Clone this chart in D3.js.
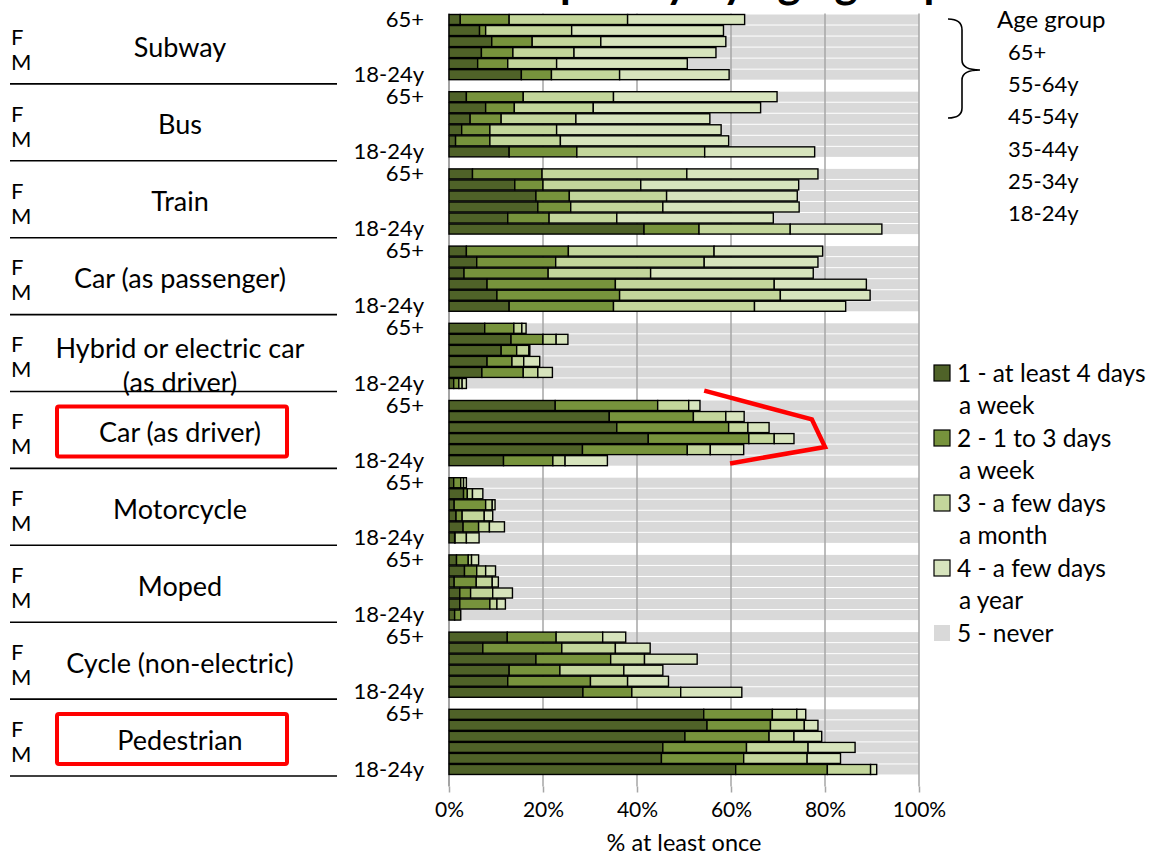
<!DOCTYPE html>
<html><head><meta charset="utf-8">
<script src="https://cdn.jsdelivr.net/npm/d3@7"></script>
<style>
body{margin:0;background:#fff}
svg{display:block}
text{font-family:Lato,"Open Sans",sans-serif;fill:#000}
</style>
</head><body><svg id="c" width="1159" height="857"></svg>
<script>
// ---------- data ----------
const modes = ["Subway","Bus","Train","Car (as passenger)","Hybrid or electric car|(as driver)","Car (as driver)","Motorcycle","Moped","Cycle (non-electric)","Pedestrian"];
const ageGroups = ["65+","55-64y","45-54y","35-44y","25-34y","18-24y"];
const sexLabels = ["F","M"];
const freqLabels = [["1 - at least 4 days","a week"],["2 - 1 to 3 days","a week"],["3 - a few days","a month"],["4 - a few days","a year"],["5 - never"]];
const xTicks = [0,20,40,60,80,100];
const titleText = "Frequency by age group";
const axisTitle = "% at least once";
const highlighted = ["Car (as driver)","Pedestrian"];

// share (%) per mode, rows ordered 65+ ... 18-24y
const freq1 = [
  [2.4,6.5,9.1,6.9,6.1,15.4],
  [3.7,7.8,4.5,2.7,1.4,12.8],
  [5.0,14.0,18.5,18.9,12.5,41.5],
  [3.7,5.9,3.2,8.1,10.2,12.8],
  [7.6,13.2,11.1,8.1,7.0,1.0],
  [22.6,34.1,35.7,42.4,28.4,11.6],
  [1.0,3.1,1.1,1.5,3.0,1.2],
  [1.6,3.3,1.1,2.3,2.3,1.2],
  [12.4,7.2,18.5,12.8,12.5,28.5],
  [54.2,54.9,50.2,45.5,45.2,61.0]
];
const freq2 = [
  [10.4,1.3,8.6,6.7,6.4,6.4],
  [12.1,6.1,6.6,6.0,7.3,14.4],
  [14.8,6.0,7.1,7.0,8.8,11.7],
  [21.7,16.8,17.9,27.3,26.1,22.2],
  [6.2,6.8,3.3,5.3,8.8,1.1],
  [21.8,17.9,23.8,21.4,22.3,10.5],
  [1.5,0.8,6.7,1.3,3.3,0.1],
  [2.5,2.6,4.7,2.3,6.4,1.3],
  [10.4,16.8,15.9,10.8,17.6,10.4],
  [14.6,13.5,17.9,17.8,17.5,19.5]
];
const freq3 = [
  [25.2,18.3,14.6,13.0,10.4,14.5],
  [19.2,16.8,15.9,14.2,15.0,27.2],
  [30.8,20.8,20.7,19.6,14.4,19.4],
  [31.0,31.6,21.8,33.8,34.2,30.0],
  [1.7,2.8,2.6,2.5,3.1,0.7],
  [6.6,6.9,4.1,5.4,4.9,2.6],
  [0.6,1.1,1.4,4.7,2.3,2.4],
  [0.7,1.9,3.4,4.7,1.5,0.0],
  [9.9,11.4,7.2,13.6,7.9,10.4],
  [5.2,7.2,5.3,13.1,13.5,9.2]
];
const freq4 = [
  [24.9,32.3,26.6,30.2,27.8,23.3],
  [34.8,35.6,28.5,35.0,35.8,23.4],
  [27.9,33.6,27.8,29.0,33.3,19.5],
  [23.1,24.2,34.6,19.6,19.1,19.4],
  [0.9,2.5,0.2,3.4,3.1,0.9],
  [2.4,3.9,4.5,4.2,7.1,9.0],
  [0.6,2.2,0.6,1.8,3.2,2.7],
  [1.5,2.1,1.3,4.2,1.8,0.0],
  [4.9,7.4,11.2,8.3,8.7,13.0],
  [1.9,2.9,5.9,10.0,7.1,1.3]
];
// red annotation (x in %, y in row slots)
const annotLine = [[54.3,33.7],[77.2,36.3],[80.0,38.8],[59.8,40.3]];

const colors = ["#4f6228","#77933c","#c3d69b","#d7e4bd","#d9d9d9"];

// ---------- layout ----------
const svg = d3.select("#c");
const rowKeys = [];
modes.forEach((m,mi)=>{ ageGroups.forEach((a,ai)=>rowKeys.push(mi+"-"+ai)); rowKeys.push(mi+"-gap"); });
const y = d3.scaleBand().domain(rowKeys).range([13.5,786.5]).padding(0.09);
const x = d3.scaleLinear().domain([0,100]).range([449,919]);
const plotTop = 13.5, plotBot = 786.5;

// title (mostly cut off at top)
svg.append("text").attr("x",716).attr("y",-2).attr("text-anchor","middle")
  .style("font-weight","bold").style("font-size","44px").text(titleText);

// rows data
const rows = [];
modes.forEach((m,mi)=>ageGroups.forEach((a,ai)=>{
  const vals=[freq1[mi][ai],freq2[mi][ai],freq3[mi][ai],freq4[mi][ai]];
  let c=0; const segs=vals.map((v,k)=>{const s={k,x0:c,x1:c+v};c+=v;return s;});
  rows.push({key:mi+"-"+ai,segs,total:c});
}));

// never bars
svg.append("g").selectAll("rect").data(rows).join("rect")
  .attr("x",d=>x(d.total)).attr("width",d=>x(100)-x(d.total))
  .attr("y",d=>y(d.key)).attr("height",y.bandwidth()).attr("fill",colors[4]);

// gridlines
svg.append("g").selectAll("line").data(xTicks.filter(t=>t>0)).join("line")
  .attr("x1",d=>x(d)).attr("x2",d=>x(d)).attr("y1",plotTop).attr("y2",plotBot)
  .attr("stroke","#a6a6a6").attr("stroke-width",1.5);
svg.append("line").attr("x1",x(0)).attr("x2",x(0)).attr("y1",plotTop).attr("y2",plotBot)
  .attr("stroke","#868686").attr("stroke-width",1.5);

// stacked bars
const bg = svg.append("g");
rows.forEach(r=>{
  bg.selectAll(null).data(r.segs.filter(s=>s.x1-s.x0>0)).join("rect")
    .attr("x",s=>x(s.x0)).attr("width",s=>x(s.x1)-x(s.x0))
    .attr("y",y(r.key)).attr("height",y.bandwidth())
    .attr("fill",s=>colors[s.k]).attr("stroke","#000").attr("stroke-width",1.4);
});

// y axis
const yAxis = d3.axisLeft(y).tickValues(rowKeys.filter(k=>k.endsWith("-0")||k.endsWith("-5")))
  .tickFormat(k=>ageGroups[+k.split("-")[1]]).tickSize(0).tickPadding(25);
const gy = svg.append("g").attr("transform",`translate(${x(0)},0)`).call(yAxis);
gy.select(".domain").remove();
gy.selectAll("text").style("font-size","22px").style("font-family","Lato");

// x axis
const xAxis = d3.axisBottom(x).tickValues(xTicks).tickFormat(d=>d+"%").tickSize(6).tickPadding(10);
const gx = svg.append("g").attr("transform",`translate(0,${plotBot})`).call(xAxis);
gx.select(".domain").remove();
gx.selectAll("line").attr("stroke","#a6a6a6").attr("stroke-width",1.5);
gx.selectAll("text").style("font-size","21px").style("font-family","Lato");
svg.append("text").attr("x",(x(0)+x(100))/2).attr("y",851).attr("text-anchor","middle")
  .style("font-size","23.5px").text(axisTitle);

// left table
const tY = d3.scaleLinear().domain([0,modes.length]).range([7,776]);
const lt = svg.append("g");
modes.forEach((m,i)=>{
  const top=tY(i);
  lt.append("line").attr("x1",10).attr("x2",337).attr("y1",tY(i+1)).attr("y2",tY(i+1))
    .attr("stroke","#000").attr("stroke-width",1.6);
  lt.append("text").attr("x",11).attr("y",top+30).attr("dy","0.35em").style("font-size","22px").text(sexLabels[0]);
  lt.append("text").attr("x",11).attr("y",top+55).attr("dy","0.35em").style("font-size","22px").text(sexLabels[1]);
  const parts=m.split("|");
  if(parts.length===1){
    lt.append("text").attr("x",180).attr("y",top+41).attr("dy","0.35em").attr("text-anchor","middle").style("font-size","27px").text(m);
  } else {
    lt.append("text").attr("x",180).attr("y",top+34).attr("dy","0.35em").attr("text-anchor","middle").style("font-size","27px").text(parts[0]);
    lt.append("text").attr("x",180).attr("y",top+68).attr("dy","0.35em").attr("text-anchor","middle").style("font-size","27px").text(parts[1]);
  }
  if(highlighted.includes(m)){
    lt.append("rect").attr("x",57).attr("y",top+41-26).attr("width",230).attr("height",50)
      .attr("rx",2).attr("fill","none").attr("stroke","#ff0000").attr("stroke-width",4);
  }
});

// red annotation line
const slotY = s => y.range()[0] + y.step()*(s+0.5);
svg.append("path").attr("d",d3.line().x(d=>x(d[0])).y(d=>slotY(d[1]))(annotLine))
  .attr("fill","none").attr("stroke","#ff0000").attr("stroke-width",4.5).attr("stroke-linejoin","miter");

// age group legend
const lg = svg.append("g");
lg.append("text").attr("x",997).attr("y",20).attr("dy","0.35em").style("font-size","24px").text("Age group");
ageGroups.forEach((a,i)=>lg.append("text").attr("x",1008).attr("y",52+i*32.3).attr("dy","0.35em").style("font-size","22px").text(a));
lg.append("path").attr("d","M948,19 Q962,19 962,30 L962,60 Q962,70 980,70 Q962,70 962,80 L962,108 Q962,118 948,118")
  .attr("fill","none").attr("stroke","#000").attr("stroke-width",1.6);

// frequency legend
const fl = svg.append("g");
freqLabels.forEach((lab,i)=>{
  const cy = 373 + i*65;
  fl.append("rect").attr("x",934).attr("y",cy-8).attr("width",16).attr("height",16)
    .attr("fill",colors[i]).attr("stroke",i<4?"#000":"none").attr("stroke-width",1.2);
  fl.append("text").attr("x",957).attr("y",cy).attr("dy","0.35em").style("font-size","24.5px").text(lab[0]);
  if(lab[1]) fl.append("text").attr("x",959).attr("y",cy+32.5).attr("dy","0.35em").style("font-size","24.5px").text(lab[1]);
});
</script>
</body></html>
